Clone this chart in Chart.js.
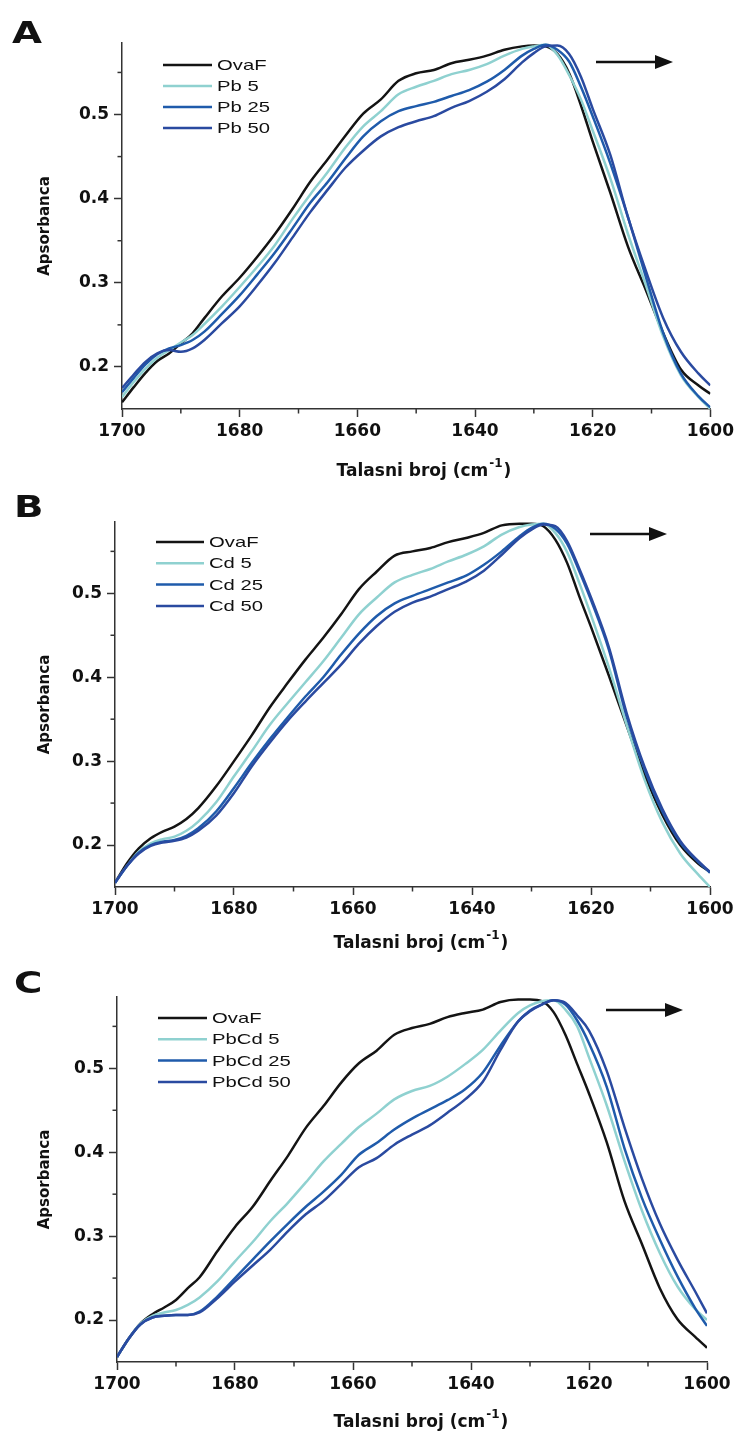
<!DOCTYPE html>
<html>
<head>
<meta charset="utf-8">
<script src="https://cdn.jsdelivr.net/npm/chart.js@4.4.0/dist/chart.umd.min.js"></script>
<style>
  html, body { margin: 0; padding: 0; background: #fff; overflow: hidden; }
  .panel { position: absolute; left: 0; width: 738px; height: 480px; }
</style>
</head>
<body>
<div class="panel" style="top:0px"><canvas id="chartA" width="738" height="480"></canvas></div>
<div class="panel" style="top:477px"><canvas id="chartB" width="738" height="480"></canvas></div>
<div class="panel" style="top:951px"><canvas id="chartC" width="738" height="480"></canvas></div>
<script>
// wavenumbers (cm-1), shared by every series
const wavenumbers = [1700, 1698, 1696, 1694, 1692, 1690, 1688, 1686, 1683, 1680, 1677, 1674, 1671, 1668, 1665, 1662, 1659, 1656, 1653, 1650, 1647, 1644, 1641, 1638, 1635, 1632, 1630, 1628, 1626, 1624, 1622, 1620, 1617, 1614, 1611, 1608, 1605, 1602, 1600];

// Panel A
const labelsA = ['OvaF', 'Pb 5', 'Pb 25', 'Pb 50'];
const ovaA = [0.158, 0.176, 0.193, 0.207, 0.216, 0.228, 0.240, 0.258, 0.284, 0.306, 0.331, 0.358, 0.388, 0.420, 0.447, 0.475, 0.501, 0.518, 0.540, 0.549, 0.553, 0.561, 0.565, 0.570, 0.577, 0.581, 0.582, 0.581, 0.572, 0.549, 0.511, 0.468, 0.407, 0.343, 0.292, 0.240, 0.197, 0.178, 0.168];
const pb5 = [0.164, 0.182, 0.198, 0.211, 0.220, 0.229, 0.238, 0.251, 0.272, 0.295, 0.319, 0.345, 0.376, 0.405, 0.432, 0.461, 0.486, 0.504, 0.524, 0.533, 0.540, 0.548, 0.553, 0.560, 0.570, 0.578, 0.581, 0.583, 0.571, 0.547, 0.518, 0.481, 0.424, 0.358, 0.298, 0.236, 0.190, 0.164, 0.150];
const pb25 = [0.170, 0.187, 0.203, 0.215, 0.222, 0.226, 0.232, 0.242, 0.263, 0.285, 0.310, 0.336, 0.365, 0.395, 0.420, 0.448, 0.474, 0.492, 0.504, 0.510, 0.515, 0.522, 0.529, 0.539, 0.553, 0.570, 0.578, 0.583, 0.577, 0.563, 0.533, 0.498, 0.442, 0.378, 0.308, 0.240, 0.192, 0.165, 0.152];
const pb50 = [0.175, 0.191, 0.206, 0.216, 0.220, 0.218, 0.222, 0.232, 0.252, 0.272, 0.297, 0.324, 0.354, 0.384, 0.411, 0.437, 0.457, 0.474, 0.485, 0.492, 0.498, 0.508, 0.516, 0.527, 0.542, 0.562, 0.573, 0.581, 0.582, 0.572, 0.545, 0.507, 0.452, 0.378, 0.315, 0.258, 0.218, 0.192, 0.178];

// Panel B
const labelsB = ['OvaF', 'Cd 5', 'Cd 25', 'Cd 50'];
const ovaB = [0.155, 0.178, 0.196, 0.208, 0.216, 0.222, 0.231, 0.244, 0.270, 0.300, 0.331, 0.364, 0.393, 0.421, 0.447, 0.475, 0.505, 0.526, 0.545, 0.550, 0.554, 0.561, 0.566, 0.572, 0.581, 0.583, 0.583, 0.580, 0.564, 0.536, 0.497, 0.460, 0.402, 0.342, 0.284, 0.236, 0.200, 0.178, 0.168];
const cd5 = [0.155, 0.175, 0.192, 0.202, 0.207, 0.210, 0.217, 0.228, 0.251, 0.282, 0.312, 0.343, 0.369, 0.394, 0.419, 0.447, 0.475, 0.495, 0.513, 0.522, 0.529, 0.538, 0.546, 0.556, 0.570, 0.579, 0.582, 0.583, 0.572, 0.549, 0.513, 0.474, 0.412, 0.343, 0.278, 0.227, 0.190, 0.165, 0.150];
const cd25 = [0.155, 0.175, 0.191, 0.200, 0.204, 0.206, 0.211, 0.220, 0.240, 0.268, 0.298, 0.326, 0.352, 0.377, 0.400, 0.427, 0.452, 0.473, 0.488, 0.497, 0.505, 0.513, 0.521, 0.534, 0.550, 0.568, 0.578, 0.583, 0.577, 0.559, 0.527, 0.492, 0.433, 0.353, 0.290, 0.240, 0.203, 0.180, 0.167];
const cd50 = [0.155, 0.175, 0.190, 0.199, 0.203, 0.205, 0.209, 0.217, 0.235, 0.262, 0.294, 0.322, 0.348, 0.371, 0.393, 0.415, 0.440, 0.461, 0.478, 0.489, 0.496, 0.505, 0.514, 0.527, 0.546, 0.566, 0.576, 0.582, 0.580, 0.562, 0.530, 0.495, 0.436, 0.357, 0.293, 0.243, 0.205, 0.181, 0.168];

// Panel C
const labelsC = ['OvaF', 'PbCd 5', 'PbCd 25', 'PbCd 50'];
const ovaC = [0.156, 0.178, 0.196, 0.207, 0.215, 0.224, 0.238, 0.251, 0.282, 0.311, 0.335, 0.366, 0.396, 0.429, 0.455, 0.483, 0.506, 0.521, 0.540, 0.548, 0.553, 0.561, 0.566, 0.570, 0.579, 0.582, 0.582, 0.580, 0.567, 0.540, 0.505, 0.470, 0.412, 0.342, 0.290, 0.238, 0.201, 0.180, 0.167];
const pbcd5 = [0.156, 0.178, 0.196, 0.205, 0.209, 0.212, 0.218, 0.227, 0.246, 0.270, 0.293, 0.318, 0.340, 0.364, 0.389, 0.410, 0.430, 0.446, 0.463, 0.473, 0.479, 0.490, 0.505, 0.522, 0.545, 0.566, 0.575, 0.580, 0.581, 0.570, 0.550, 0.513, 0.456, 0.390, 0.330, 0.280, 0.240, 0.213, 0.200];
const pbcd25 = [0.156, 0.178, 0.195, 0.203, 0.205, 0.206, 0.206, 0.210, 0.228, 0.250, 0.272, 0.294, 0.315, 0.335, 0.353, 0.373, 0.397, 0.411, 0.427, 0.440, 0.451, 0.462, 0.475, 0.495, 0.527, 0.556, 0.569, 0.576, 0.581, 0.576, 0.557, 0.530, 0.478, 0.405, 0.345, 0.296, 0.252, 0.214, 0.193];
const pbcd50 = [0.156, 0.178, 0.195, 0.203, 0.205, 0.206, 0.206, 0.209, 0.226, 0.246, 0.265, 0.284, 0.306, 0.326, 0.342, 0.362, 0.382, 0.393, 0.409, 0.421, 0.432, 0.447, 0.463, 0.484, 0.522, 0.556, 0.568, 0.576, 0.581, 0.578, 0.563, 0.545, 0.497, 0.430, 0.368, 0.315, 0.272, 0.234, 0.208];

// Axis ticks
const xMajorTicks = [1700, 1680, 1660, 1640, 1620, 1600];
const xMinorTicks = [1690, 1670, 1650, 1630, 1610];
const yMajorTicks = [0.2, 0.3, 0.4, 0.5];
const yMinorTicks = [0.25, 0.35, 0.45, 0.55];

const lineColors = ['#141414', '#8fd1d0', '#1f5bab', '#2a4aa0'];
const axisColor = '#333';
const tickFont = { family: 'DejaVu Sans', size: 17, weight: 'bold' };

// Layout of each panel (canvas coordinates)
const panels = [
    { id: 'chartA', letter: 'A', labels: labelsA, series: [ovaA, pb5, pb25, pb50],
      area: { left: 122, top: 43, right: 711, bottom: 409 },
      legend: { x1: 163, x2: 212, tx: 217, y: 65, dy: 21 },
      arrow: { x1: 596, x2: 673, y: 62 },
      letterPos: { x: 12, y: 43 },
      xTitle: { x: 423, y: 476 } },
    { id: 'chartB', letter: 'B', labels: labelsB, series: [ovaB, cd5, cd25, cd50],
      area: { left: 115, top: 45, right: 710, bottom: 410 },
      legend: { x1: 156, x2: 204, tx: 209, y: 65, dy: 21.3 },
      arrow: { x1: 590, x2: 667, y: 57 },
      letterPos: { x: 14, y: 40 },
      xTitle: { x: 420, y: 471 } },
    { id: 'chartC', letter: 'C', labels: labelsC, series: [ovaC, pbcd5, pbcd25, pbcd50],
      area: { left: 117, top: 46, right: 707, bottom: 411 },
      legend: { x1: 158, x2: 207, tx: 212, y: 67, dy: 21.3 },
      arrow: { x1: 606, x2: 683, y: 59 },
      letterPos: { x: 14, y: 42 },
      xTitle: { x: 420, y: 476 } }
];

// Minor ticks, legend, arrow, panel letter and x title
const decorPlugin = {
    id: 'decor',
    afterDraw(chart, args, opts) {
        const p = opts.panel;
        const ctx = chart.ctx;
        const xs = chart.scales.x, ys = chart.scales.y;
        const area = chart.chartArea;
        ctx.save();

        // minor ticks
        ctx.strokeStyle = axisColor;
        ctx.lineWidth = 1.5;
        xMinorTicks.forEach(v => {
            const px = xs.getPixelForValue(v);
            ctx.beginPath();
            ctx.moveTo(px, area.bottom);
            ctx.lineTo(px, area.bottom + 4.5);
            ctx.stroke();
        });
        yMinorTicks.forEach(v => {
            const py = ys.getPixelForValue(v);
            ctx.beginPath();
            ctx.moveTo(area.left - 4.5, py);
            ctx.lineTo(area.left, py);
            ctx.stroke();
        });

        // legend inside the plot
        chart.data.datasets.forEach((ds, i) => {
            const y = p.legend.y + i * p.legend.dy;
            ctx.strokeStyle = ds.borderColor;
            ctx.lineWidth = 2.5;
            ctx.beginPath();
            ctx.moveTo(p.legend.x1, y);
            ctx.lineTo(p.legend.x2, y);
            ctx.stroke();
            ctx.save();
            ctx.translate(p.legend.tx, y);
            ctx.scale(1.35, 1);
            ctx.fillStyle = '#111';
            ctx.font = '15px "Liberation Sans"';
            ctx.textBaseline = 'middle';
            ctx.fillText(ds.label, 0, 1);
            ctx.restore();
        });

        // shift arrow
        ctx.strokeStyle = '#111';
        ctx.fillStyle = '#111';
        ctx.lineWidth = 2.5;
        ctx.beginPath();
        ctx.moveTo(p.arrow.x1, p.arrow.y);
        ctx.lineTo(p.arrow.x2 - 14, p.arrow.y);
        ctx.stroke();
        ctx.beginPath();
        ctx.moveTo(p.arrow.x2, p.arrow.y);
        ctx.lineTo(p.arrow.x2 - 18, p.arrow.y - 7);
        ctx.lineTo(p.arrow.x2 - 18, p.arrow.y + 7);
        ctx.closePath();
        ctx.fill();

        // panel letter
        ctx.save();
        ctx.translate(p.letterPos.x, p.letterPos.y);
        ctx.scale(1.25, 1);
        ctx.font = 'bold 31px "DejaVu Sans"';
        ctx.textBaseline = 'alphabetic';
        ctx.fillText(p.letter, 0, 0);
        ctx.restore();

        // x title with superscript
        const main = 'Talasni broj (cm', sup = '-1', close = ')';
        ctx.font = 'bold 17px "DejaVu Sans"';
        const wMain = ctx.measureText(main).width;
        const wClose = ctx.measureText(close).width;
        ctx.font = 'bold 12px "DejaVu Sans"';
        const wSup = ctx.measureText(sup).width;
        let x = p.xTitle.x - (wMain + wSup + wClose) / 2;
        ctx.textBaseline = 'alphabetic';
        ctx.font = 'bold 17px "DejaVu Sans"';
        ctx.fillText(main, x, p.xTitle.y);
        x += wMain + 1;
        ctx.font = 'bold 12px "DejaVu Sans"';
        ctx.fillText(sup, x, p.xTitle.y - 9);
        x += wSup + 1;
        ctx.font = 'bold 17px "DejaVu Sans"';
        ctx.fillText(close, x, p.xTitle.y);

        ctx.restore();
    }
};

function makePanel(p) {
    const ctx = document.getElementById(p.id).getContext('2d');
    const H = 480, W = 738;
    return new Chart(ctx, {
        type: 'line',
        data: {
            datasets: p.series.map((s, i) => ({
                label: p.labels[i],
                data: wavenumbers.map((w, k) => ({ x: w, y: s[k] })),
                borderColor: lineColors[i],
                borderWidth: 2.5,
                pointRadius: 0,
                cubicInterpolationMode: 'monotone',
                fill: false,
                order: 4 - i
            }))
        },
        options: {
            responsive: false,
            animation: false,
            layout: { padding: { left: 0, top: p.area.top, right: W - p.area.right, bottom: 0 } },
            plugins: {
                legend: { display: false },
                tooltip: { enabled: false },
                decor: { panel: p }
            },
            scales: {
                x: {
                    type: 'linear',
                    reverse: true,
                    min: 1600,
                    max: 1700,
                    afterBuildTicks: scale => { scale.ticks = xMajorTicks.map(v => ({ value: v })); },
                    afterFit: scale => { scale.height = H - p.area.bottom; },
                    grid: { drawOnChartArea: false, drawTicks: true, tickLength: 8, tickWidth: 1.5, tickColor: axisColor },
                    border: { display: true, color: axisColor, width: 1.5 },
                    ticks: { font: tickFont, color: '#111', padding: 4, maxRotation: 0, autoSkip: false,
                             callback: v => String(v) }
                },
                y: {
                    type: 'linear',
                    min: 0.15,
                    max: 0.585,
                    afterBuildTicks: scale => { scale.ticks = yMajorTicks.map(v => ({ value: v })); },
                    afterFit: scale => { scale.width = p.area.left; },
                    grid: { drawOnChartArea: false, drawTicks: true, tickLength: 8, tickWidth: 1.5, tickColor: axisColor },
                    border: { display: true, color: axisColor, width: 1.5 },
                    ticks: { font: tickFont, color: '#111', padding: 5, callback: v => v.toFixed(1) },
                    title: {
                        display: true,
                        text: 'Apsorbanca',
                        color: '#111',
                        font: { family: 'DejaVu Sans', size: 15, weight: 'bold' },
                        padding: { top: 36, bottom: 0 }
                    }
                }
            }
        },
        plugins: [decorPlugin]
    });
}

panels.forEach(makePanel);
</script>
</body>
</html>
